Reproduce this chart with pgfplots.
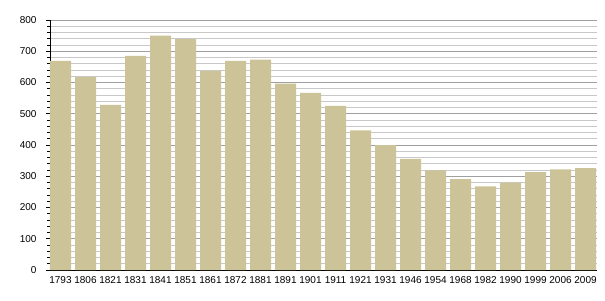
\documentclass[border=0pt]{standalone}
\usepackage{pgfplots}
\pgfplotsset{compat=1.18}
\usepackage{fontspec}
\setmainfont{Liberation Sans}
\definecolor{barc}{RGB}{204,195,153}
\definecolor{majg}{RGB}{160,160,160}
\definecolor{ming}{RGB}{200,200,200}
\begin{document}
\begin{tikzpicture}
\useasboundingbox (-50pt,-30pt) rectangle (555pt,270pt);
\begin{axis}[
  scale only axis,
  width=547pt, height=250pt,
  xmin=-0.42, xmax=21.46,
  ymin=0, ymax=800,
  axis x line=bottom, axis y line=left,
  axis line style={black, -},
  xtick=data,
  xticklabels={1793,1806,1821,1831,1841,1851,1861,1872,1881,1891,1901,1911,1921,1931,1946,1954,1968,1982,1990,1999,2006,2009},
  x tick style={draw=none},
  ytick={0,100,...,800},
  minor y tick num=4,
  ymajorgrids, yminorgrids,
  major grid style={majg, line width=0.6pt},
  minor grid style={ming, line width=0.6pt},
  y tick style={black, line width=0.6pt},
  tick align=outside,
  major tick length=4pt, minor tick length=3pt,
  tick label style={font=\fontsize{10}{11}\selectfont},
  /pgf/number format/assume math mode=true,
  yticklabel style={xshift=-6pt},
  xticklabel style={yshift=1pt},
  ybar, bar width=0.84,
]
\addplot[fill=barc, draw=none] coordinates {
(0,669) (1,617) (2,528) (3,685) (4,750) (5,739) (6,637) (7,669) (8,673) (9,596) (10,567)
(11,525) (12,447) (13,400) (14,356) (15,319) (16,291) (17,268) (18,280) (19,313) (20,322) (21,326)
};
\end{axis}
\end{tikzpicture}
\end{document}
